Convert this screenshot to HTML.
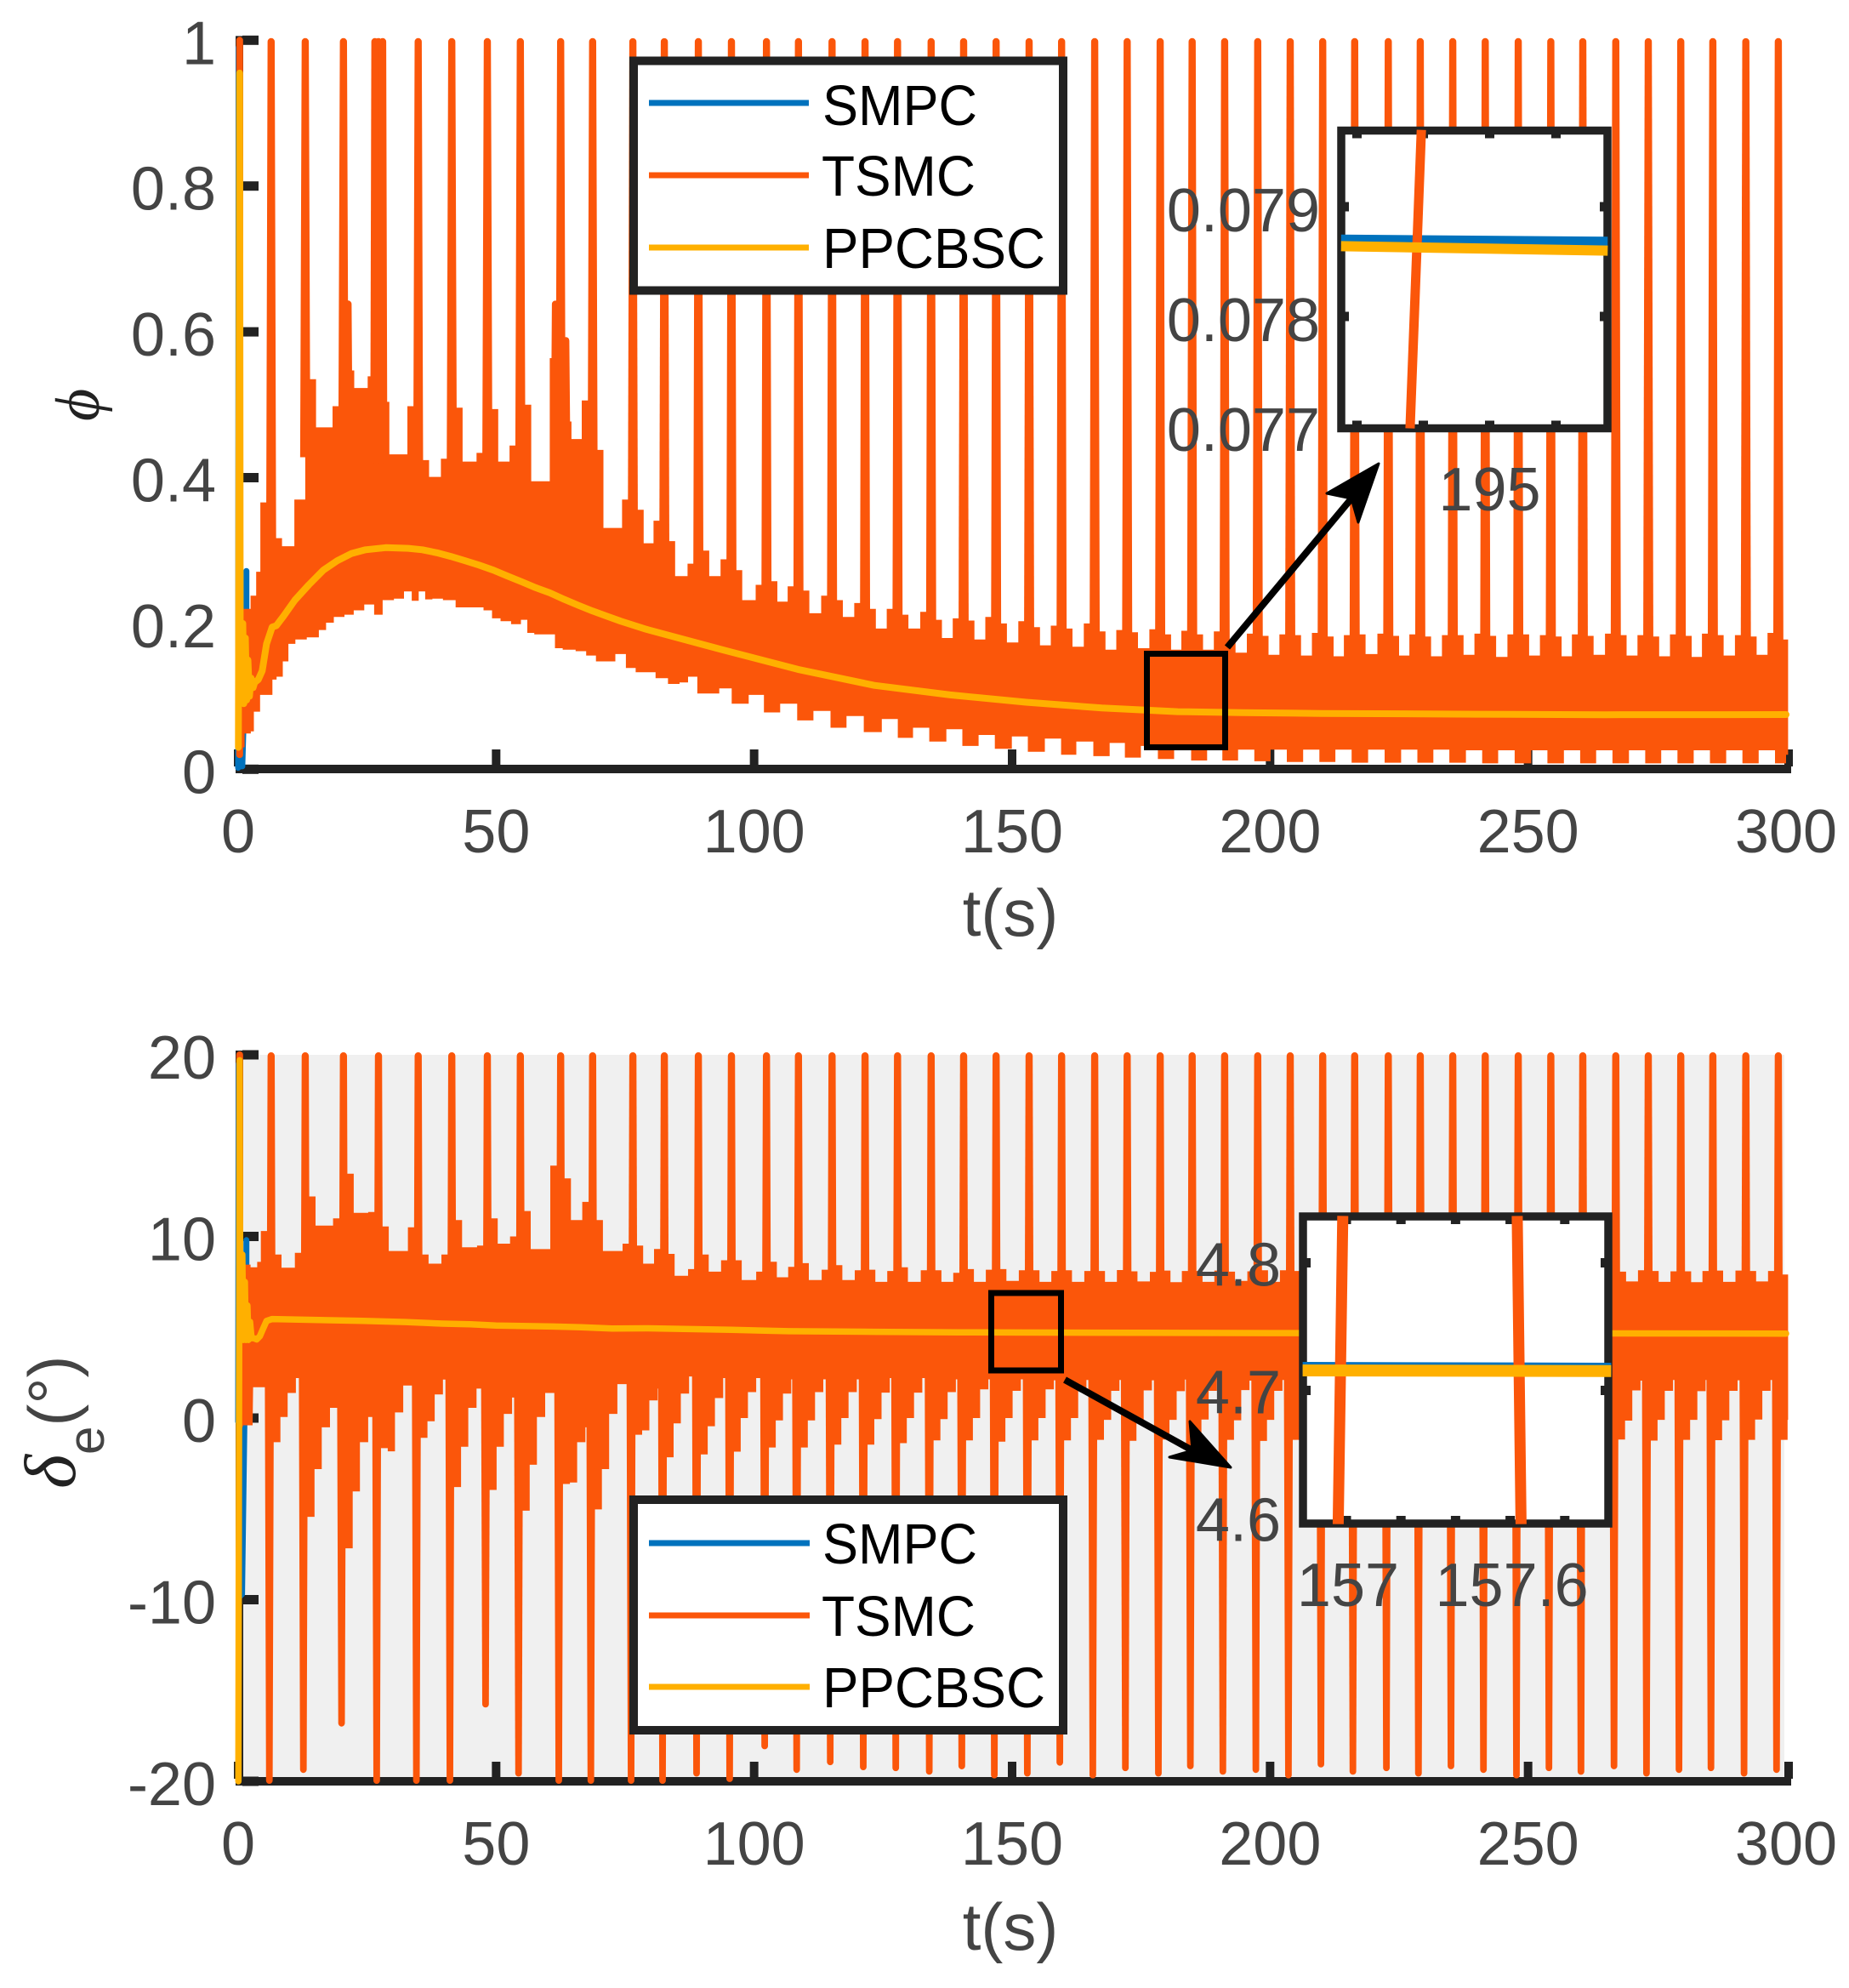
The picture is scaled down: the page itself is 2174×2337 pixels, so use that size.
<!DOCTYPE html>
<html lang="en">
<head>
<meta charset="utf-8">
<title>SMPC, TSMC and PPCBSC time responses</title>
<style>
html,body{margin:0;padding:0;background:#fff;width:2174px;height:2337px;overflow:hidden}
svg{display:block}
text{font-family:"Liberation Sans",sans-serif}
.tick{font-size:72px;fill:#444}
.ttl{font-size:78px;fill:#444}
.leg{font-size:67px;fill:#000}
</style>
</head>
<body>
<svg id="fig" xmlns="http://www.w3.org/2000/svg" width="2174" height="2337" viewBox="0 0 2174 2337">
  <rect width="2174" height="2337" fill="#fff"/>
  <g id="plotA"></g>
  <g id="plotB"></g>
  <text class="ttl" x="1188" y="1100" text-anchor="middle">t(s)</text>
  <text class="ttl" x="1188" y="2292" text-anchor="middle">t(s)</text>
  <text transform="translate(116,476) rotate(-90)" text-anchor="middle" font-size="74" fill="#222" style="font-family:'Liberation Serif','DejaVu Serif',serif;font-style:italic">ϕ</text>
  <text transform="translate(88,1750) rotate(-90)" font-size="78" fill="#444"><tspan font-size="86" fill="#222" style="font-family:'Liberation Serif','DejaVu Serif',serif;font-style:italic">δ</tspan><tspan font-size="60" dy="34">e</tspan><tspan dy="-34">(°)</tspan></text>
  <g id="zoomA"></g>
  <g id="zoomB"></g>
  <g>
    <rect x="745" y="71.5" width="505" height="270" fill="#fff" stroke="#222" stroke-width="10"/>
    <line x1="763" x2="951" y1="121" y2="121" stroke="#0072bd" stroke-width="7"/>
    <line x1="763" x2="951" y1="206" y2="206" stroke="#fb560a" stroke-width="7"/>
    <line x1="763" x2="951" y1="291" y2="291" stroke="#ffb000" stroke-width="7"/>
    <text class="leg" x="967" y="147" textLength="182" lengthAdjust="spacingAndGlyphs">SMPC</text>
    <text class="leg" x="966" y="230" textLength="181" lengthAdjust="spacingAndGlyphs">TSMC</text>
    <text class="leg" x="967" y="315" textLength="262" lengthAdjust="spacingAndGlyphs">PPCBSC</text>
  </g>
  <g>
    <rect x="745" y="1763" width="505" height="271" fill="#fff" stroke="#222" stroke-width="10"/>
    <line x1="763" x2="952" y1="1814" y2="1814" stroke="#0072bd" stroke-width="7"/>
    <line x1="763" x2="952" y1="1899" y2="1899" stroke="#fb560a" stroke-width="7"/>
    <line x1="763" x2="952" y1="1983" y2="1983" stroke="#ffb000" stroke-width="7"/>
    <text class="leg" x="967" y="1838" textLength="182" lengthAdjust="spacingAndGlyphs">SMPC</text>
    <text class="leg" x="966" y="1923" textLength="181" lengthAdjust="spacingAndGlyphs">TSMC</text>
    <text class="leg" x="967" y="2007" textLength="262" lengthAdjust="spacingAndGlyphs">PPCBSC</text>
  </g>
</svg>
<script>
const xTicks = [0, 50, 100, 150, 200, 250, 300];
const phiYTicks = [1, 0.8, 0.6, 0.4, 0.2, 0];
const phiYLabels = ['1', '0.8', '0.6', '0.4', '0.2', '0'];
const deltaYTicks = [20, 10, 0, -10, -20];
const deltaYLabels = ['20', '10', '0', '-10', '-20'];

const spikeTimes = [6.4,13,20.4,27.2,34.9,41.4,48.3,54.7,62.5,68.7,76.5,82.6,89.2,95.6,102.4,108.6,115.1,121.5,127.8,134.3,140.6,146.9,153.3,159.6,166,172.3,178.7,184.9,191.2,197.6,203.9,210.2,216.4,222.9,229.1,235.4,241.7,248.1,254.4,260.6,267,273.3,279.6,285.8,292.2,298.5];

const phiSpikePeak = [1,1,1,1,1,1,1,1,1,1,1,1,1,1,1,1,1,1,1,1,1,1,1,1,1,1,1,1,1,1,1,1,1,1,1,1,1,1,1,1,1,1,1,1,1,1];
const phiShoulderL = [.366,.370,.498,.539,.498,.426,.434,.444,.564,.506,.370,.341,.282,.288,.253,.251,.238,.228,.220,.216,.207,.209,.203,.197,.200,.191,.192,.190,.189,.186,.185,.187,.184,.186,.185,.184,.186,.185,.184,.185,.186,.184,.185,.186,.184,.187];
const phiShoulderR = [.317,.535,.547,.504,.424,.496,.494,.500,.477,.438,.356,.313,.300,.273,.258,.245,.232,.220,.212,.205,.204,.200,.195,.193,.189,.188,.185,.185,.178,.183,.184,.182,.185,.183,.182,.184,.183,.185,.182,.183,.184,.182,.183,.184,.182,.178];
const phiTrough = [.306,.469,.523,.432,.401,.422,.422,.395,.453,.331,.310,.265,.265,.232,.230,.214,.209,.193,.193,.180,.178,.174,.170,.168,.164,.166,.164,.164,.160,.157,.156,.155,.158,.156,.155,.157,.154,.156,.155,.157,.156,.155,.154,.156,.157,.160];
const phiHeadT = [0.5,2.4,2.4,3.5,3.5,4.4];
const phiHeadV = [.22,.22,.238,.238,.271,.271];
const phiLowerT = [.6,1.9,3,3.1,4.1,4.4,6.6,6.7,8.2,9.1,10.4,11.8,14.8,16.5,17.6,19.5,21.7,23.1,25.8,26.9,29.1,31.3,33,34.3,35.7,36.8,38.5,40.9,43.4,46.7,48.4,50,51.7,54.1,55.5,56.6,58.2,61,61.8,64,66.8,68.1,70.6,72,74.2,76.1,78,79.8,82,84.6,86.5,87.9,90.1,92.7,93.8,97.5,100.4,103.4,106.7,110,113,116.6,119.2,123.3,126.2,129.5,132.1,135.8,138.7,142,145,148.3,151.6,154.5,158.2,160.8,164.1,167.4,170.4,173.3,176.6,179.9,182.9,186.5,189.1,192.4,195.2,198.7,201.5,205,207.8,211.3,214,217.6,220.4,224,226.8,230.3,233,236.5,239.4,242.8,245.6,249.2,252,255.5,258.4,261.8,264.6,268.1,271,274.4,277.2,280.7,283.5,287,289.8,293.3,296.1,299.6,300.4];
const phiLowerV = [.03,.049,.052,.079,.079,.102,.102,.123,.127,.148,.172,.178,.181,.191,.201,.209,.212,.218,.226,.212,.232,.234,.244,.231,.244,.233,.234,.232,.222,.222,.218,.207,.203,.199,.205,.187,.185,.185,.166,.164,.162,.156,.148,.148,.158,.139,.133,.133,.125,.117,.119,.127,.104,.104,.111,.090,.102,.078,.090,.067,.080,.057,.073,.051,.069,.043,.057,.038,.055,.032,.047,.028,.045,.024,.042,.020,.038,.018,.036,.016,.032,.014,.032,.012,.028,.012,.027,.011,.027,.010,.027,.010,.027,.009,.027,.009,.027,.009,.027,.009,.026,.008,.026,.008,.026,.008,.026,.008,.026,.008,.026,.008,.026,.008,.026,.008,.026,.008,.026,.008,.020];
const phiExtraT = [21.3,26.5,28,61.5,63.5];
const phiExtraPeak = [.64,1,1,.64,.59];

const ppcbscPhiT = [.05,.3,.42,.9,1.1,1.4,1.65,1.9,2.2,2.5,2.9,3.2,3.9,4.67,5.5,6.6,7.4,8.8,11,13.7,16.5,19.2,22,24.7,28.6,33,35.7,38.5,41.2,44,46.7,49.5,52.2,55,57.7,60.4,63.2,65.9,68.7,71.4,74.2,79.1,93.8,108.5,123.3,138,152.7,167.4,182.1,194.5,210,240,265,300];
const ppcbscPhiV = [.03,.955,.09,.2,.09,.18,.095,.15,.10,.125,.112,.119,.123,.135,.172,.195,.197,.210,.232,.253,.273,.286,.296,.301,.304,.303,.301,.297,.292,.286,.280,.273,.265,.257,.249,.242,.233,.225,.217,.210,.203,.192,.164,.137,.115,.102,.092,.084,.079,.0777,.0765,.0755,.0748,.0750];
const smpcPhiT = [0,.1,.3,.8,1.6,1.6,1.6,3,7.4,28.6,79,123,167,300];
const smpcPhiV = [.002,.99,.004,.004,.2,.272,.22,.12,.197,.304,.192,.115,.084,.0752];
const tsmcStartPhiT = [.3,.3];
const tsmcStartPhiV = [1,.02];

const deltaSpikeHigh = [20,20,20,20,20,20,20,20,20,20,20,20,20,20,20,20,20,20,20,20,20,20,20,20,20,20,20,20,20,20,20,20,20,20,20,20,20,20,20,20,20,20,20,20,20,20];
const deltaSpikeLow = [-20,-19.4,-16.85,-20,-20,-20,-15.8,-19.6,-20,-20,-20,-20,-19.6,-19.9,-18.1,-19.4,-19,-19.25,-19.3,-19.5,-19.2,-19.7,-19.6,-19,-19.7,-19.3,-19.6,-19.2,-19.5,-19.4,-19.7,-19.1,-19.5,-19.3,-19.6,-19.2,-19.4,-19.7,-19.3,-19.5,-19.2,-19.6,-19.4,-19.3,-19.6,-19.4];
const deltaShoulderL = [10.3,9.1,11,11.35,10.5,9,9.5,10,13.9,11.9,9.6,9.31,8.2,8.69,8.06,8.33,8.17,8.14,8.1,8.14,8,8.17,8.14,8.1,8.1,8.15,8.05,8.1,8.12,8.08,8.14,8.1,8.06,8.12,8.1,8.15,8.08,8.1,8.12,8.06,8.1,8.14,8.08,8.1,8.12,8.1];
const deltaShoulderR = [9,12.2,13.45,10.55,9,10.9,11,11.4,13.2,10.9,9.5,9.04,9,8.69,8.61,8.53,8.42,8.17,8.3,8.14,8.2,8.2,8.14,8.14,8.1,8.08,8.12,8.1,8.06,8.14,8.1,8.08,8.12,8.1,8.06,8.1,8.14,8.08,8.1,8.12,8.06,8.1,8.08,8.12,8.1,7.9];
const deltaTrough = [8.28,10.6,11.3,9.2,8.5,9.4,9.6,9.3,10.9,9.2,8.5,7.83,8.06,7.6,7.75,7.6,7.6,7.5,7.5,7.5,7.5,7.55,7.5,7.5,7.5,7.52,7.48,7.5,7.55,7.5,7.46,7.5,7.52,7.5,7.48,7.5,7.55,7.5,7.46,7.5,7.52,7.5,7.48,7.5,7.52,7.5];
const deltaLowA = [-1.33,-5.44,-7.17,-1.66,-1.09,-3.8,-3.96,-5.1,-3.63,-5.03,-.92,-2.16,-2,-1.85,-1.62,-1.62,-1.46,-1.46,-1.38,-1.23,-1.23,-1.3,-1.23,-1.23,-1.2,-1.25,-1.18,-1.22,-1.2,-1.26,-1.2,-1.18,-1.24,-1.2,-1.22,-1.18,-1.25,-1.2,-1.22,-1.2,-1.18,-1.24,-1.2,-1.22,-1.2,-1.2];
const deltaLowB = [.06,-2.81,-4.04,-1.83,-.18,-1.58,-1.58,-2.57,-3.55,-2.81,-.68,-.29,-.45,0,-.13,-.13,0,-.06,0,-.06,0,0,0,0,-.1,-.15,-.1,-.08,-.12,-.1,-.15,-.1,-.08,-.12,-.1,-.14,-.1,-.08,-.12,-.1,-.14,-.1,-.1,-.12,-.08,-.1];
const deltaLowC = [1.38,-.51,-1.33,.31,1.3,.56,.23,.06,-1.33,.23,.97,1.35,1.1,1.43,1.35,1.43,1.43,1.4,1.4,1.43,1.58,1.5,1.58,1.55,1.5,1.52,1.48,1.5,1.54,1.5,1.46,1.5,1.52,1.5,1.48,1.5,1.54,1.5,1.46,1.5,1.52,1.5,1.48,1.5,1.5,1.5];
const deltaLowD = [2.2,.56,.06,1.79,2.12,1.62,1.13,1.38,-.51,1.87,1.62,2.29,2.2,2.2,2.13,2.13,2.13,2.2,2.2,2.13,2.13,2.13,2.08,2.1,2.1,2.08,2.12,2.1,2.06,2.1,2.12,2.08,2.1,2.1,2.06,2.12,2.1,2.08,2.1,2.12,2.06,2.1,2.1,2.08,2.1,2.1];
const deltaHeadT = [.8,2.4,2.4,3.7,3.7,4.8];
const deltaHeadV = [8.45,8.45,8.3,8.3,8.6,8.6];
const deltaHeadLowT = [.6,2.8,2.9,5.5];
const deltaHeadLowV = [-.4,-.4,1.7,1.7];

const ppcbscDeltaT = [.05,.3,.42,.8,1,1.3,1.5,1.8,2,2.3,2.6,3,3.6,4.2,4.7,5.5,6.6,24.2,32.4,39.6,45,50,61,66.5,72.5,79.1,95.6,106.6,123,139.5,156,200,300];
const ppcbscDeltaV = [-20,19.7,4.3,9,4.3,7.5,4.3,6.2,4.3,5.3,4.4,4.4,4.33,4.5,4.83,5.35,5.45,5.35,5.29,5.2,5.16,5.09,5.04,5,4.93,4.94,4.86,4.78,4.75,4.72,4.705,4.68,4.65];
const smpcDeltaT = [0,.1,.4,.75,1.2,1.6,1.6,1.6,3,7,80,157,300];
const smpcDeltaV = [-.2,19.5,-9.8,-9.7,-.4,8.4,9.8,8.4,4.5,5.4,4.93,4.72,4.67];
const tsmcStartDeltaT = [.3,.3];
const tsmcStartDeltaV = [20,-.4];

const insetAXTicks = [194.8,194.9,195,195.1];
const insetAYTicks = [.079,.078,.077];
const insetAYLabels = ['0.079','0.078','0.077'];
const insetAXLabelVal = [195];
const insetATsmcT = [194.88,194.897];
const insetATsmcV = [.07698,.0797];
const insetASmpcT = [194.776,195.178];
const insetASmpcV = [.0787,.07868];
const insetAPpcT = [194.776,195.178];
const insetAPpcV = [.07864,.0786];

const insetBXTicks = [157,157.2,157.4,157.6,157.8];
const insetBXLabelVal = [157,157.6];
const insetBYTicks = [4.8,4.7,4.6];
const insetBYLabels = ['4.8','4.7','4.6'];
const insetBSpikeAT = [156.987,156.97];
const insetBSpikeBT = [157.626,157.64];
const insetBSpikeV = [4.8367,4.5952];
const insetBSmpcT = [156.84,157.97];
const insetBSmpcV = [4.7177,4.717];
const insetBPpcT = [156.84,157.97];
const insetBPpcV = [4.7157,4.7152];

const NS = 'http://www.w3.org/2000/svg';
const ORANGE = '#fb560a', BLUE = '#0072bd', YELLOW = '#ffb000', INK = '#222';
const X = t => 280 + t * (1820 / 300);
const phiY = v => 904.3 - v * 857;
const deltaY = v => 1667 - v * 21.35;

function add(parent, tag, attrs, txt) {
  const n = document.createElementNS(NS, tag);
  for (const k in attrs) n.setAttribute(k, attrs[k]);
  if (txt !== undefined) n.textContent = txt;
  parent.appendChild(n);
  return n;
}
function linePath(ts, vs, fx, fy) {
  return ts.map((t, i) => (i ? 'L' : 'M') + fx(t).toFixed(1) + ' ' + fy(vs[i]).toFixed(1)).join('');
}
function upperEnvelope(headT, headV, L, R, Tr, w) {
  const pts = headT.map((t, i) => [t, headV[i]]);
  let prev = headV[headV.length - 1];
  spikeTimes.forEach((t, i) => {
    const right = Math.min(t + w, 300.4);
    pts.push([t - w, prev], [t - w, L[i]], [t, L[i]], [t, R[i]], [right, R[i]], [right, Tr[i]]);
    prev = Tr[i];
  });
  return pts;
}
function stepMidEnvelope(ts, vs) {
  const pts = [];
  ts.forEach((t, i) => {
    pts.push([t, vs[i]]);
    if (i < ts.length - 1) {
      const mid = (t + ts[i + 1]) / 2;
      pts.push([mid, vs[i]], [mid, vs[i + 1]]);
    }
  });
  return pts;
}
function deltaLowerEnvelope() {
  const pts = deltaHeadLowT.map((t, i) => [t, deltaHeadLowV[i]]);
  let prev = deltaHeadLowV[deltaHeadLowV.length - 1];
  spikeTimes.forEach((t, i) => {
    const end = 300.4;
    const a = Math.min(t + .7, end), b = Math.min(t + 1.8, end), c = Math.min(t + 3.2, end), d = Math.min(t + 4.8, end);
    pts.push([t - .9, prev], [t - .9, deltaLowA[i]], [a, deltaLowA[i]], [b, deltaLowA[i]], [b, deltaLowB[i]], [c, deltaLowB[i]], [c, deltaLowC[i]], [d, deltaLowC[i]], [d, deltaLowD[i]]);
    prev = deltaLowD[i];
  });
  pts.push([300.4, prev]);
  return pts;
}
function drawAxes(g, yTicks, yLabels, fy, y0) {
  const spine = add(g, 'rect', {x: 277, y: fy(yTicks[0]) - 5, width: 9, height: y0 - fy(yTicks[0]) + 10, fill: INK});
  
  
  const base = add(g, 'rect', {x: 278, y: y0 - 5, width: 1828, height: 10, fill: INK});
  
  
  xTicks.forEach(t => {
    const tk = add(g, 'rect', {x: X(t) - 5 + (t === 300 ? 3 : 0), y: y0 - 23, width: 10, height: 20, fill: INK});
    
    
    const lb = add(g, 'text', {class: 'tick', x: X(t), y: y0 + 98, 'text-anchor': 'middle'}, String(t));
    
    
  });
  yTicks.forEach((v, i) => {
    const tk = add(g, 'rect', {x: 285, y: fy(v) - 5.5, width: 19, height: 11, fill: INK});
    
    
    const lb = add(g, 'text', {class: 'tick', x: 254, y: fy(v) + 28, 'text-anchor': 'end'}, yLabels[i]);
    
    
  });
}
function stroke(g, d, color, w, cap, name) {
  const p = add(g, 'path', {d: d, fill: 'none', stroke: color, 'stroke-width': w, 'stroke-linecap': cap, 'stroke-linejoin': 'round'});
  
  
  return p;
}
function spikeShape(x, yBase, yTip, hwBase, hwTip) {
  const up = yTip < yBase;
  const yArc = up ? yTip + hwTip : yTip - hwTip;
  const sweep = up ? 1 : 0;
  return 'M' + (x - hwBase).toFixed(1) + ' ' + yBase.toFixed(1) +
    'L' + (x - hwTip).toFixed(1) + ' ' + yArc.toFixed(1) +
    'A' + hwTip + ' ' + hwTip + ' 0 0 ' + sweep + ' ' + (x + hwTip).toFixed(1) + ' ' + yArc.toFixed(1) +
    'L' + (x + hwBase).toFixed(1) + ' ' + yBase.toFixed(1) + 'Z';
}
function envelopePath(upper, lower, fy) {
  const all = upper.concat(lower.slice().reverse());
  return all.map((p, i) => (i ? 'L' : 'M') + X(p[0]).toFixed(1) + ' ' + fy(p[1]).toFixed(1)).join('') + 'Z';
}

/* ---- phi plot ---- */
const gA = document.getElementById('plotA');
drawAxes(gA, phiYTicks, phiYLabels, phiY, 904);
stroke(gA, linePath(smpcPhiT, smpcPhiV, X, phiY), BLUE, 7, 'round', 'smpc-phi-line');
stroke(gA, linePath(tsmcStartPhiT, tsmcStartPhiV, X, phiY), ORANGE, 8, 'round', 'tsmc-phi-start');
const phiBandUpper = upperEnvelope(phiHeadT, phiHeadV, phiShoulderL, phiShoulderR, phiTrough, 2.1);
const phiBandLower = stepMidEnvelope(phiLowerT, phiLowerV);
const phiBand = add(gA, 'path', {d: envelopePath(phiBandUpper, phiBandLower, phiY), fill: ORANGE});


spikeTimes.forEach((t, i) => {
  const s = add(gA, 'path', {d: spikeShape(X(t), phiY(phiShoulderR[i] * .8), phiY(phiSpikePeak[i]) - 2.5, 6, 4.2), fill: ORANGE});
  
  
});
phiExtraT.forEach((t, i) => {
  const s = add(gA, 'path', {d: spikeShape(X(t), phiY(.42), phiY(phiExtraPeak[i]) - 2.5, 5.5, 4.2), fill: ORANGE});
  
  
});
stroke(gA, linePath(ppcbscPhiT, ppcbscPhiV, X, phiY), YELLOW, 8, 'round', 'ppcbsc-phi-line');

/* ---- delta plot ---- */
const gB = document.getElementById('plotB');
const bg = add(gB, 'rect', {x: 285, y: deltaY(20), width: 1813, height: deltaY(-20) - deltaY(20), fill: '#f0f0f0'});


drawAxes(gB, deltaYTicks, deltaYLabels, deltaY, 2094);
stroke(gB, linePath(smpcDeltaT, smpcDeltaV, X, deltaY), BLUE, 7, 'round', 'smpc-elevator-line');
stroke(gB, linePath(tsmcStartDeltaT, tsmcStartDeltaV, X, deltaY), ORANGE, 8, 'round', 'tsmc-elevator-start');
const deltaBand = add(gB, 'path', {d: envelopePath(upperEnvelope(deltaHeadT, deltaHeadV, deltaShoulderL, deltaShoulderR, deltaTrough, 2.0), deltaLowerEnvelope(), deltaY), fill: ORANGE});


spikeTimes.forEach((t, i) => {
  const up = add(gB, 'path', {d: spikeShape(X(t), deltaY(5), deltaY(deltaSpikeHigh[i]) - 3, 5.2, 4.2), fill: ORANGE});
  
  
  const down = add(gB, 'path', {d: spikeShape(X(t - .35), deltaY(5), deltaY(deltaSpikeLow[i]) + 3, 5.5, 3.9), fill: ORANGE});
  
  
});
stroke(gB, linePath(ppcbscDeltaT, ppcbscDeltaV, X, deltaY), YELLOW, 7.5, 'round', 'ppcbsc-elevator-line');

/* ---- zoom callouts ---- */
function arrow(g, x1, y1, x2, y2, h1, n, h2, name) {
  stroke(g, 'M' + x1 + ' ' + y1 + 'L' + n[0] + ' ' + n[1], '#000', 8, 'butt', name + '-shaft');
  const head = add(g, 'path', {d: 'M' + x2 + ' ' + y2 + 'L' + h1[0] + ' ' + h1[1] + 'L' + n[0] + ' ' + n[1] + 'L' + h2[0] + ' ' + h2[1] + 'Z', fill: '#000', stroke: '#000', 'stroke-width': 3, 'stroke-linejoin': 'round'});
  
  
}
function insetFrame(g, box, ticksX, ticksY, fx, fy, name) {
  const r = add(g, 'rect', {x: box[0], y: box[1], width: box[2] - box[0], height: box[3] - box[1], fill: '#fff'});
  
  
  ticksX.forEach(t => {
    const a = add(g, 'rect', {x: fx(t) - 5.5, y: box[1], width: 11, height: 9, fill: INK});
    
    
    const b = add(g, 'rect', {x: fx(t) - 5.5, y: box[3] - 9, width: 11, height: 9, fill: INK});
    
    
  });
  ticksY.forEach(v => {
    if (fy(v) > box[3] - 8) return;
    const a = add(g, 'rect', {x: box[0], y: fy(v) - 5.5, width: 9, height: 11, fill: INK});
    
    
    const b = add(g, 'rect', {x: box[2] - 9, y: fy(v) - 5.5, width: 9, height: 11, fill: INK});
    
    
  });
  const border = add(g, 'rect', {x: box[0], y: box[1], width: box[2] - box[0], height: box[3] - box[1], fill: 'none', stroke: INK, 'stroke-width': 9.5});
  
  
}

const zA = document.getElementById('zoomA');
const ax = t => 1751.5 + (t - 195) * 780;
const ay = v => 372 - (v - .078) * 129000;
const boxA = add(zA, 'rect', {x: 1348.5, y: 768.5, width: 92, height: 110, fill: 'none', stroke: '#000', 'stroke-width': 7});


arrow(zA, 1443, 761, 1621, 545, [1560, 580], [1589, 586], [1597, 614], 'phi-zoom-arrow');
insetFrame(zA, [1577, 153.5, 1890, 503.5], insetAXTicks, insetAYTicks, ax, ay, 'phi-inset');
stroke(zA, linePath(insetASmpcT, insetASmpcV, ax, ay), BLUE, 12, 'butt', 'phi-inset-smpc');
stroke(zA, linePath(insetATsmcT, insetATsmcV, ax, ay), ORANGE, 11, 'butt', 'phi-inset-tsmc');
stroke(zA, linePath(insetAPpcT, insetAPpcV, ax, ay), YELLOW, 12, 'butt', 'phi-inset-ppcbsc');
insetAYTicks.forEach((v, i) => {
  const lb = add(zA, 'text', {class: 'tick', x: 1552, y: ay(v) + 29, 'text-anchor': 'end'}, insetAYLabels[i]);
  
  
});
insetAXLabelVal.forEach(v => {
  const lb = add(zA, 'text', {class: 'tick', x: ax(v), y: 600, 'text-anchor': 'middle'}, String(v));
  
  
});

const zB = document.getElementById('zoomB');
const bx = t => 1583 + (t - 157) * 321;
const by = v => 1634.5 - (v - 4.7) * 1500;
const boxB = add(zB, 'rect', {x: 1165.5, y: 1520, width: 82, height: 91, fill: 'none', stroke: '#000', 'stroke-width': 7});


arrow(zB, 1252, 1622, 1447, 1725, [1399, 1671], [1402, 1705], [1375, 1713], 'elevator-zoom-arrow');
insetFrame(zB, [1532, 1430, 1891, 1791], insetBXTicks, insetBYTicks, bx, by, 'elevator-inset');
stroke(zB, linePath(insetBSmpcT, insetBSmpcV, bx, by), BLUE, 14, 'butt', 'elevator-inset-smpc');
stroke(zB, linePath(insetBSpikeAT, insetBSpikeV, bx, by), ORANGE, 13, 'butt', 'elevator-inset-tsmc-a');
stroke(zB, linePath(insetBSpikeBT, insetBSpikeV, bx, by), ORANGE, 13, 'butt', 'elevator-inset-tsmc-b');
stroke(zB, linePath(insetBPpcT, insetBPpcV, bx, by), YELLOW, 14, 'butt', 'elevator-inset-ppcbsc');
insetBYTicks.forEach((v, i) => {
  const lb = add(zB, 'text', {class: 'tick', x: 1506, y: by(v) + 27, 'text-anchor': 'end'}, insetBYLabels[i]);
  
  
});
insetBXLabelVal.forEach(v => {
  const lb = add(zB, 'text', {class: 'tick', x: bx(v) + 2, y: 1888, 'text-anchor': 'middle'}, String(v));
  
  
});
</script>
</body>
</html>
